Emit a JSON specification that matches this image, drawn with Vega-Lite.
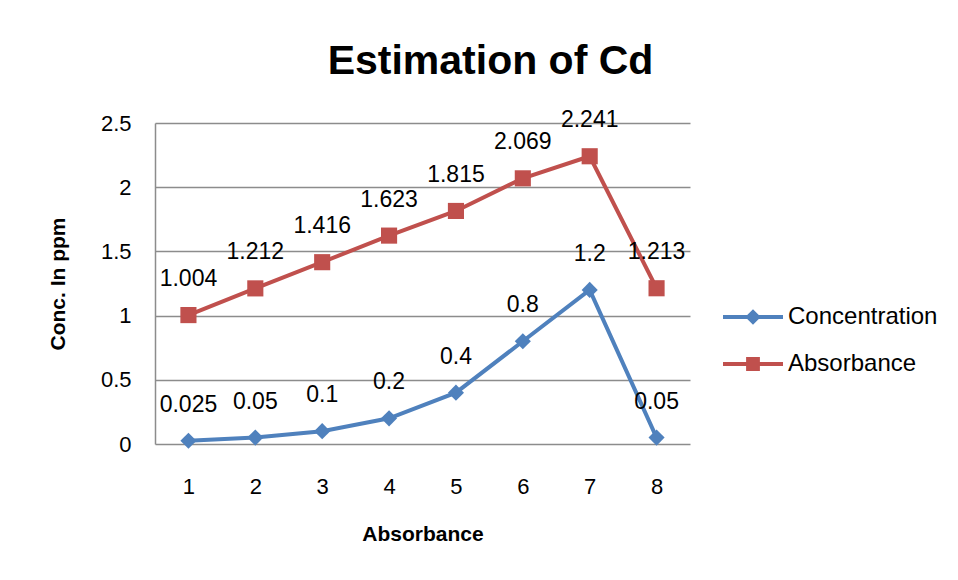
{
  "$schema": "https://vega.github.io/schema/vega-lite/v6.json",
  "width": 535,
  "height": 321,
  "autosize": {"type": "none"},
  "padding": {"left": 155, "top": 123, "right": 268, "bottom": 136},
  "background": "white",
  "title": {
    "text": "Estimation of Cd",
    "font": "Liberation Sans",
    "fontSize": 41,
    "fontWeight": "bold",
    "color": "black",
    "anchor": "middle",
    "dx": 68,
    "offset": 26
  },
  "config": {
    "view": {"stroke": null},
    "font": "Liberation Sans"
  },
  "data": {
    "values": [
      {"x": "1", "series": "Concentration", "value": 0.025},
      {"x": "2", "series": "Concentration", "value": 0.05},
      {"x": "3", "series": "Concentration", "value": 0.1},
      {"x": "4", "series": "Concentration", "value": 0.2},
      {"x": "5", "series": "Concentration", "value": 0.4},
      {"x": "6", "series": "Concentration", "value": 0.8},
      {"x": "7", "series": "Concentration", "value": 1.2},
      {"x": "8", "series": "Concentration", "value": 0.05},
      {"x": "1", "series": "Absorbance", "value": 1.004},
      {"x": "2", "series": "Absorbance", "value": 1.212},
      {"x": "3", "series": "Absorbance", "value": 1.416},
      {"x": "4", "series": "Absorbance", "value": 1.623},
      {"x": "5", "series": "Absorbance", "value": 1.815},
      {"x": "6", "series": "Absorbance", "value": 2.069},
      {"x": "7", "series": "Absorbance", "value": 2.241},
      {"x": "8", "series": "Absorbance", "value": 1.213}
    ]
  },
  "encoding": {
    "x": {
      "field": "x",
      "type": "ordinal",
      "scale": {"type": "point", "padding": 0.5},
      "axis": {
        "title": "Absorbance",
        "titleFontSize": 21,
        "titleFontWeight": "bold",
        "titleColor": "black",
        "titlePadding": 26,
        "labelAngle": 0,
        "labelFontSize": 22,
        "labelColor": "black",
        "labelPadding": 32,
        "ticks": false,
        "domain": false,
        "grid": false
      }
    },
    "y": {
      "field": "value",
      "type": "quantitative",
      "scale": {"domain": [0, 2.5], "nice": false},
      "axis": {
        "title": "Conc. In ppm",
        "titleFontSize": 21,
        "titleFontWeight": "bold",
        "titleColor": "black",
        "titlePadding": 32,
        "values": [0, 0.5, 1, 1.5, 2, 2.5],
        "format": ".1~f",
        "labelFontSize": 22,
        "labelColor": "black",
        "labelPadding": 24,
        "ticks": false,
        "domain": true,
        "domainColor": "#8c8c8c",
        "domainWidth": 1.5,
        "grid": true,
        "gridColor": "#8c8c8c",
        "gridWidth": 1.5
      }
    },
    "color": {
      "field": "series",
      "type": "nominal",
      "scale": {"domain": ["Concentration", "Absorbance"], "range": ["#4F81BD", "#C0504D"]},
      "legend": {
        "title": null,
        "orient": "none",
        "legendX": 568,
        "legendY": 164,
        "labelFontSize": 24,
        "labelColor": "black",
        "labelOffset": 5,
        "symbolSize": 3600,
        "symbolStrokeWidth": 0,
        "rowPadding": 5,
        "encode": {
          "symbols": {
            "update": {
              "shape": {"signal": "datum.value === 'Concentration' ? 'M-1,-0.07H1V0.07H-1Z M0,-0.26L0.26,0L0,0.26L-0.26,0Z' : 'M-1,-0.07H1V0.07H-1Z M-0.23,-0.23H0.23V0.23H-0.23Z'"},
              "strokeWidth": {"value": 0},
              "opacity": {"value": 1}
            }
          }
        }
      }
    }
  },
  "layer": [
    {
      "mark": {"type": "line", "strokeWidth": 4},
      "encoding": {"detail": {"field": "series"}}
    },
    {
      "transform": [{"filter": "datum.series === 'Concentration'"}],
      "mark": {"type": "point", "filled": true, "opacity": 1, "size": 260, "shape": "diamond"}
    },
    {
      "transform": [{"filter": "datum.series === 'Absorbance'"}],
      "mark": {"type": "point", "filled": true, "opacity": 1, "size": 260, "shape": "square"}
    },
    {
      "mark": {"type": "text", "dy": -36, "fontSize": 23, "color": "black", "font": "Liberation Sans"},
      "encoding": {
        "text": {"field": "value", "type": "quantitative", "format": "~g"},
        "color": {"value": "black"}
      }
    }
  ]
}
